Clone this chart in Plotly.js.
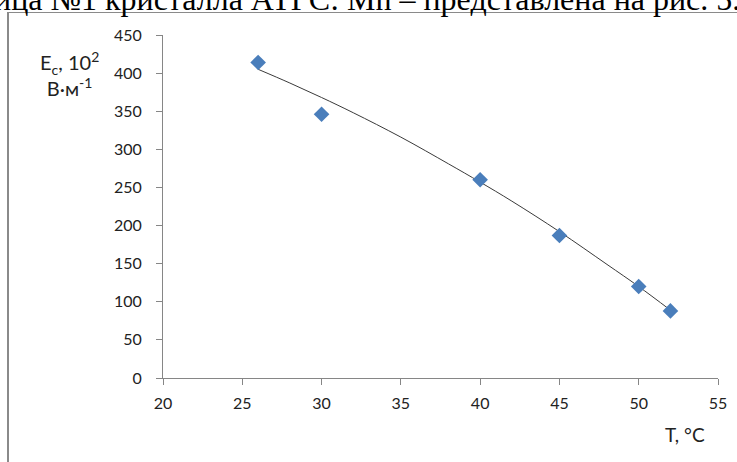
<!DOCTYPE html>
<html>
<head>
<meta charset="utf-8">
<script src="https://cdn.plot.ly/plotly-3.0.1.min.js"></script>
<style>
  html, body { margin: 0; padding: 0; background: #fff; overflow: hidden; }
  #wrap { position: relative; width: 737px; height: 462px; overflow: hidden; }
  #chart { position: absolute; left: 0; top: 0; width: 737px; height: 462px; }
  #caption { position: absolute; left: -6px; top: -17px; white-space: nowrap;
             font-family: "Liberation Serif", "DejaVu Serif", serif; font-size: 32px;
             line-height: 32px; color: #000; pointer-events: none; }
  #frame { position: absolute; left: 7px; top: 12px; width: 800px; height: 500px;
           border-top: 1.5px solid #8a8a8a; border-left: 2px solid #8a8a8a;
           pointer-events: none; }
</style>
</head>
<body>
<div id="wrap">
  <div id="chart"></div>
  <div id="frame"></div>
  <div id="caption">ица №1 кристалла АТГС: Mn – представлена на рис. 5.</div>
</div>
<script>
// Measured points
const temperature = [26, 30, 40, 45, 50, 52];
const coerciveField = [414, 346, 260, 187, 120, 88];
// Trend line
const trendT = [26, 28, 30, 32, 35, 38, 40, 42, 45, 48, 50, 52];
const trendE = [405, 387, 368, 348, 316, 281, 257, 232, 192, 149, 120, 89];
// Axis ticks
const xTicks = [20, 25, 30, 35, 40, 45, 50, 55];
const yTicks = [0, 50, 100, 150, 200, 250, 300, 350, 400, 450];

const axisColor = '#868686';
const fontFamily = 'Lato, "Open Sans", sans-serif';
const tickFont = { family: fontFamily, size: 16, color: '#222' };

const traces = [
  {
    x: trendT, y: trendE, type: 'scatter', mode: 'lines',
    line: { color: '#3a3a3a', width: 1, shape: 'spline' },
    hoverinfo: 'skip', showlegend: false
  },
  {
    x: temperature, y: coerciveField, type: 'scatter', mode: 'markers',
    marker: { symbol: 'diamond', size: 12, color: '#4a7ebb' },
    showlegend: false
  }
];

const layout = {
  width: 737, height: 462,
  margin: { l: 163, r: 19, t: 35, b: 84 },
  paper_bgcolor: '#fff', plot_bgcolor: '#fff',
  showlegend: false,
  xaxis: {
    range: [20, 55], tickvals: xTicks, ticktext: xTicks.map(String),
    showgrid: false, zeroline: false, showline: true,
    linecolor: axisColor, linewidth: 1,
    ticks: 'outside', ticklen: 6, tickcolor: axisColor, tickwidth: 1,
    ticklabelstandoff: 5, tickfont: tickFont, fixedrange: true
  },
  yaxis: {
    range: [0, 450], tickvals: yTicks, ticktext: yTicks.map(String),
    showgrid: false, zeroline: false, showline: true,
    linecolor: axisColor, linewidth: 1,
    ticks: 'outside', ticklen: 6, tickcolor: axisColor, tickwidth: 1,
    ticklabelstandoff: 11, tickfont: tickFont, fixedrange: true
  },
  annotations: [
    {
      xref: 'paper', yref: 'paper', x: -0.1676, y: 0.885,
      xanchor: 'center', yanchor: 'middle', showarrow: false, align: 'center',
      text: 'E<sub>c</sub>, 10<sup>2</sup><br>В·м<sup>-1</sup>',
      font: { family: fontFamily, size: 20, color: '#222' }
    },
    {
      xref: 'paper', yref: 'paper', x: 0.9414, y: -0.166,
      xanchor: 'center', yanchor: 'middle', showarrow: false,
      text: 'T, °C',
      font: { family: fontFamily, size: 19, color: '#222' }
    }
  ]
};

Plotly.newPlot('chart', traces, layout, { staticPlot: true, displayModeBar: false });
</script>
</body>
</html>
